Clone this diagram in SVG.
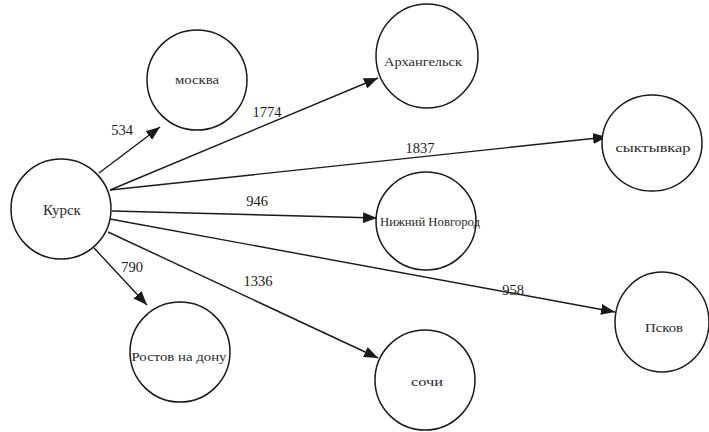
<svg xmlns="http://www.w3.org/2000/svg" width="709" height="432" viewBox="0 0 709 432">
<style>
  .node ellipse { fill: #ffffff; stroke: #1a1a1a; stroke-width: 1.5; }
  .node text { font-family: 'Liberation Serif', 'DejaVu Serif', serif; fill: #2a2a2a; text-anchor: middle; }
  .edges line { stroke: #1a1a1a; stroke-width: 1.4; marker-end: url(#arrow); }
  .lbl { font-family: 'Liberation Serif', 'DejaVu Serif', serif; font-size: 14.5px; fill: #1a1a1a; text-anchor: middle; }
</style>
<defs>
  <marker id="arrow" viewBox="0 0 14 11" refX="14" refY="5.5" markerWidth="14" markerHeight="11" markerUnits="userSpaceOnUse" orient="auto">
    <path d="M0,0 L14,5.5 L0,11 z" fill="#1a1a1a"/>
  </marker>
</defs>
<rect width="709" height="432" fill="#ffffff"/>
<g id="connectors" class="edges">
  <line x1="99" y1="173" x2="160" y2="127"/>
  <line x1="110" y1="190" x2="378" y2="78"/>
  <line x1="110" y1="190" x2="607" y2="137"/>
  <line x1="112" y1="211" x2="377" y2="218"/>
  <line x1="110" y1="219" x2="615" y2="312"/>
  <line x1="108" y1="232" x2="378" y2="358"/>
  <line x1="94" y1="248" x2="147" y2="305"/>
</g>
<g id="edge-labels">
  <text class="lbl" x="122" y="135">534</text>
  <text class="lbl" x="267" y="117">1774</text>
  <text class="lbl" x="420" y="153">1837</text>
  <text class="lbl" x="257" y="206">946</text>
  <text class="lbl" x="132" y="272">790</text>
  <text class="lbl" x="258" y="286">1336</text>
  <text class="lbl" x="513" y="295">958</text>
</g>
<g id="node-kursk" class="node">
  <ellipse cx="61" cy="209" rx="50" ry="50"/>
  <text x="62" y="215" font-size="15">Курск</text>
</g>
<g id="node-moskva" class="node">
  <ellipse cx="197" cy="80" rx="50" ry="50"/>
  <text x="197" y="84" font-size="13" textLength="44" lengthAdjust="spacingAndGlyphs">москва</text>
</g>
<g id="node-arkhangelsk" class="node">
  <ellipse cx="427" cy="56" rx="51" ry="52"/>
  <text x="423" y="66" font-size="13" textLength="78" lengthAdjust="spacingAndGlyphs">Архангельск</text>
</g>
<g id="node-syktyvkar" class="node">
  <ellipse cx="652" cy="143" rx="50" ry="48"/>
  <text x="653" y="152" font-size="13" textLength="75" lengthAdjust="spacingAndGlyphs">сыктывкар</text>
</g>
<g id="node-nizhny" class="node">
  <ellipse cx="426" cy="221" rx="50" ry="49"/>
  <text x="430" y="226" font-size="12" textLength="100" lengthAdjust="spacingAndGlyphs">Нижний Новгород</text>
</g>
<g id="node-pskov" class="node">
  <ellipse cx="662" cy="322" rx="47" ry="50"/>
  <text x="664" y="332" font-size="13" textLength="38" lengthAdjust="spacingAndGlyphs">Псков</text>
</g>
<g id="node-sochi" class="node">
  <ellipse cx="425" cy="380" rx="50" ry="50"/>
  <text x="427" y="386" font-size="13" textLength="32" lengthAdjust="spacingAndGlyphs">сочи</text>
</g>
<g id="node-rostov" class="node">
  <ellipse cx="180" cy="352" rx="50" ry="50"/>
  <text x="179" y="361" font-size="13.5" textLength="95" lengthAdjust="spacingAndGlyphs">Ростов на дону</text>
</g>
</svg>
